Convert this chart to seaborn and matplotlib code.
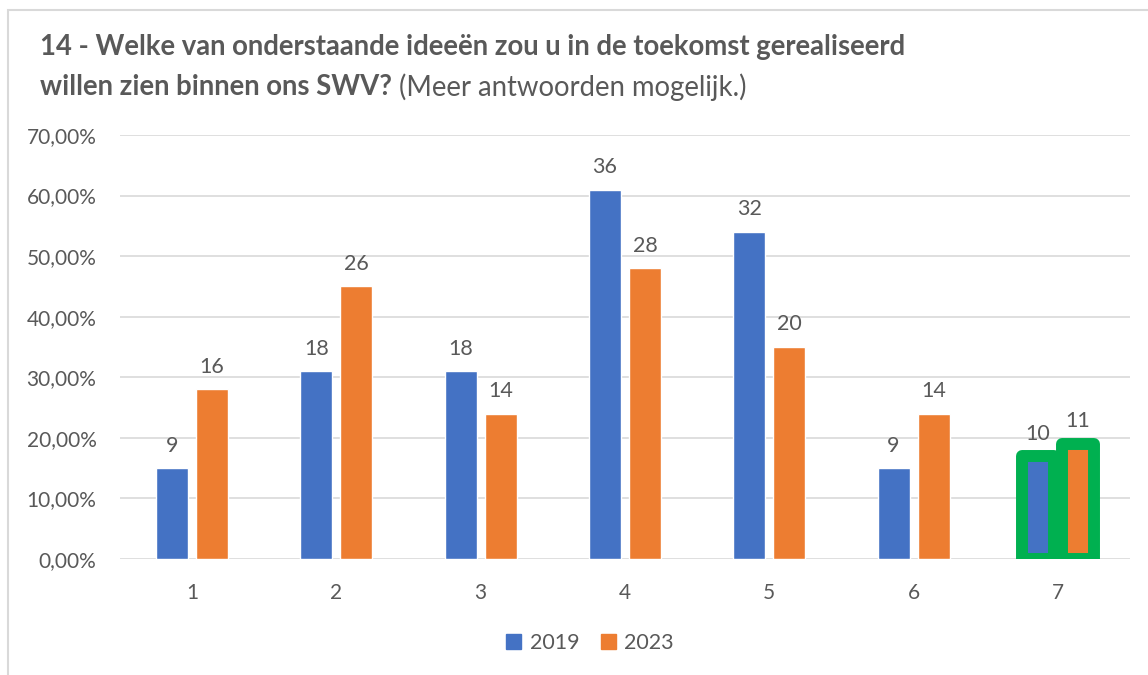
import matplotlib
matplotlib.use("Agg")
from matplotlib import pyplot as plt
from matplotlib.patches import Rectangle
import seaborn as sns
import pandas as pd

# chart data
categories = ["1", "2", "3", "4", "5", "6", "7"]
pct_2019 = [15, 31, 31, 61, 54, 15, 17]
pct_2023 = [28, 45, 24, 48, 35, 24, 19]
count_2019 = [9, 18, 18, 36, 32, 9, 10]
count_2023 = [16, 26, 14, 28, 20, 14, 11]
years = ["2019", "2023"]

BLUE = "#4472C4"
ORANGE = "#ED7D31"
GREEN = "#00B050"
TEXT = "#595959"
GRID = "#D9D9D9"

df = pd.DataFrame({
	"cat": categories * 2,
	"year": [years[0]] * 7 + [years[1]] * 7,
	"pct": [v / 100 for v in pct_2019 + pct_2023],
	"n": count_2019 + count_2023,
})

sns.set_theme(style="white")
plt.rcParams["font.family"] = ["Lato", "DejaVu Sans"]

fig = plt.figure(figsize=(11.48, 6.75), dpi=100)
ax = fig.add_axes([120 / 1148, 1 - 559 / 675, 1010 / 1148, (559 - 135) / 675])

sns.barplot(data=df, x="cat", y="pct", hue="year", palette=[BLUE, ORANGE],
	width=0.555, gap=0.2, ax=ax, legend=False, saturation=1)

ax.set_ylim(0, 0.70)
ax.set_xlim(-0.5, 6.5)
ax.set_yticks([i / 10 for i in range(8)])
ax.set_yticklabels([f"{i * 10},00%" for i in range(8)], color=TEXT, fontsize=15)
ax.tick_params(axis="y", length=0, pad=17)
ax.tick_params(axis="x", length=0, pad=17, labelsize=15, labelcolor=TEXT)
ax.yaxis.grid(True, color=GRID, linewidth=1.2)
ax.set_axisbelow(True)
for s in ax.spines.values():
	s.set_visible(False)
ax.set_xlabel("")
ax.set_ylabel("")

# data labels with the counts
for cont, counts in zip(ax.containers, [count_2019, count_2023]):
	ax.bar_label(cont, labels=[str(c) for c in counts], padding=9,
		fontsize=15.5, color=TEXT)

# green highlight around group 7
for cont in ax.containers:
	p = cont.patches[6]
	p.set_edgecolor(GREEN)
	p.set_linewidth(8.6)
	p.set_joinstyle("round")

# title: bold part + regular part
t1 = fig.text(40 / 1148, 1 - 47 / 675, "14 - Welke van onderstaande ideeën zou u in de toekomst gerealiseerd",
	fontsize=19.8, fontweight="bold", color=TEXT, va="center")
t2 = fig.text(40 / 1148, 1 - 87 / 675, "willen zien binnen ons SWV?",
	fontsize=19.8, fontweight="bold", color=TEXT, va="center")
fig.canvas.draw()
bb = t2.get_window_extent()
fig.text((bb.x1 + 7) / 1148, 1 - 87 / 675, "(Meer antwoorden mogelijk.)",
	fontsize=19.8, color=TEXT, va="center")

# legend
handles = [Rectangle((0, 0), 1, 1, color=BLUE), Rectangle((0, 0), 1, 1, color=ORANGE)]
fig.legend(handles, years, loc="center", bbox_to_anchor=(590 / 1148, 1 - 643 / 675),
	ncol=2, frameon=False, handlelength=0.7, handleheight=0.7, handletextpad=0.4,
	columnspacing=1.0, fontsize=15.5, labelcolor=TEXT)

# chart border
fig.add_artist(Rectangle((8 / 1148, -0.1), 2, 1.1 - 10 / 675, transform=fig.transFigure,
	fill=False, edgecolor=GRID, linewidth=1.5))

fig.savefig("out.png", dpi=100)
